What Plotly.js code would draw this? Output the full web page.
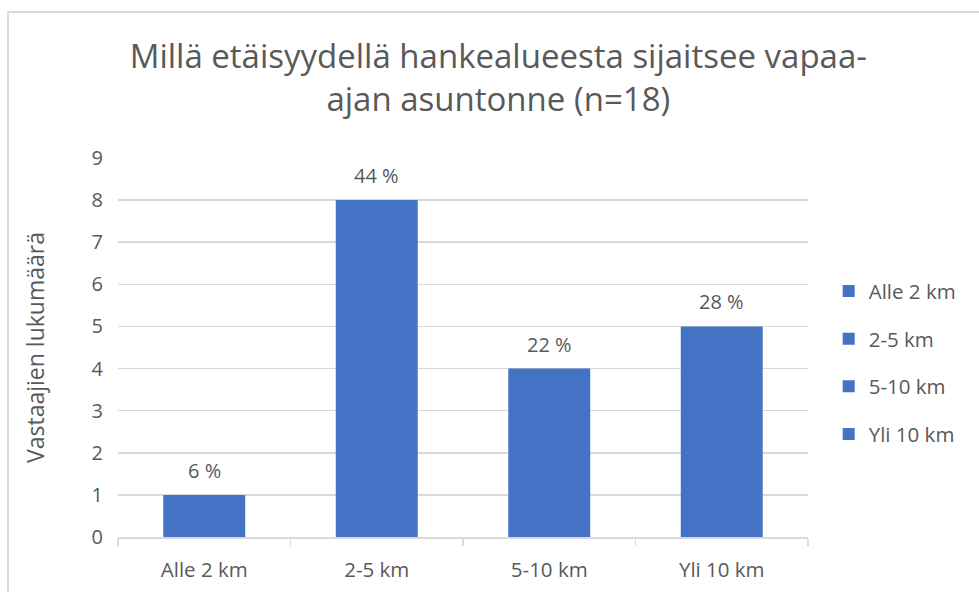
<!DOCTYPE html>
<html><head><meta charset="utf-8">
<script src="https://cdn.plot.ly/plotly-3.0.1.min.js"></script>
<style>html,body{margin:0;padding:0;background:#fff}#c{width:979px;height:592px}</style>
</head><body><div id="c"></div>
<script>
const categories = ["Alle 2 km", "2-5 km", "5-10 km", "Yli 10 km"];
const counts = [1, 8, 4, 5];
const percentLabels = ["6 %", "44 %", "22 %", "28 %"];
const yTicks = [0,1,2,3,4,5,6,7,8,9];
const titleText = "Millä etäisyydellä hankealueesta sijaitsee vapaa-<br>ajan asuntonne (n=18)";
const yTitle = "Vastaajien lukumäärä";

const font = '"Open Sans", "Noto Sans", sans-serif';
const txt = '#595959';
const traces = categories.map((c, i) => ({
  type: 'bar', name: c, legendgroup: c, x: [c], y: [counts[i]],
  marker: {color: '#4472C4'}, width: 0.475, hoverinfo: 'none'
}));
const labelAnnotations = categories.map((c, i) => ({
  x: c, y: counts[i], xref: 'x', yref: 'y', text: percentLabels[i], showarrow: false,
  yanchor: 'bottom', yshift: 9, font: {family: font, size: 20, color: txt}
}));

const layout = {
  width: 979, height: 592,
  margin: {l: 118, r: 171, t: 158, b: 55},
  paper_bgcolor: '#fff', plot_bgcolor: '#fff',
  barmode: 'overlay',
  font: {family: font, color: txt},
  title: {text: titleText, font: {family: font, size: 33, color: txt},
          x: 0.509, xref: 'container', xanchor: 'center', yref: 'container', y: 0.885, yanchor: 'top'},
  xaxis: {categoryorder: 'array', categoryarray: categories, range: [-0.5, 3.5],
          showline: true, linecolor: '#d9d9d9', linewidth: 1.5,
          ticks: 'outside', tickson: 'boundaries', ticklen: 7, tickcolor: '#d9d9d9', tickwidth: 1.5,
          ticklabelstandoff: 14,
          tickfont: {family: font, size: 20.5, color: txt}, showgrid: false, fixedrange: true},
  yaxis: {range: [0, 9], tickvals: yTicks, showgrid: true, gridcolor: '#d9d9d9', gridwidth: 1.5,
          zeroline: false, showline: false, ticks: '', ticklabelstandoff: 14,
          tickfont: {family: font, size: 20, color: txt},
          title: {text: yTitle, font: {family: font, size: 23, color: txt}, standoff: 40}, fixedrange: true},
  legend: {x: 1.03, xanchor: 'left', y: 0.46, yanchor: 'middle', font: {family: font, size: 20.5, color: txt},
           itemwidth: 30, tracegroupgap: 18, traceorder: 'grouped', bgcolor: 'rgba(0,0,0,0)'},
  showlegend: true,
  annotations: labelAnnotations,
  shapes: [
    {type: 'rect', xref: 'paper', yref: 'paper', x0: -0.1594, x1: 1.6, y0: -0.5, y1: 1.385,
     line: {color: '#d9d9d9', width: 2}, fillcolor: 'rgba(0,0,0,0)', layer: 'below'}
  ]
};
Plotly.newPlot('c', traces, layout, {displayModeBar: false, staticPlot: true});
</script></body></html>
